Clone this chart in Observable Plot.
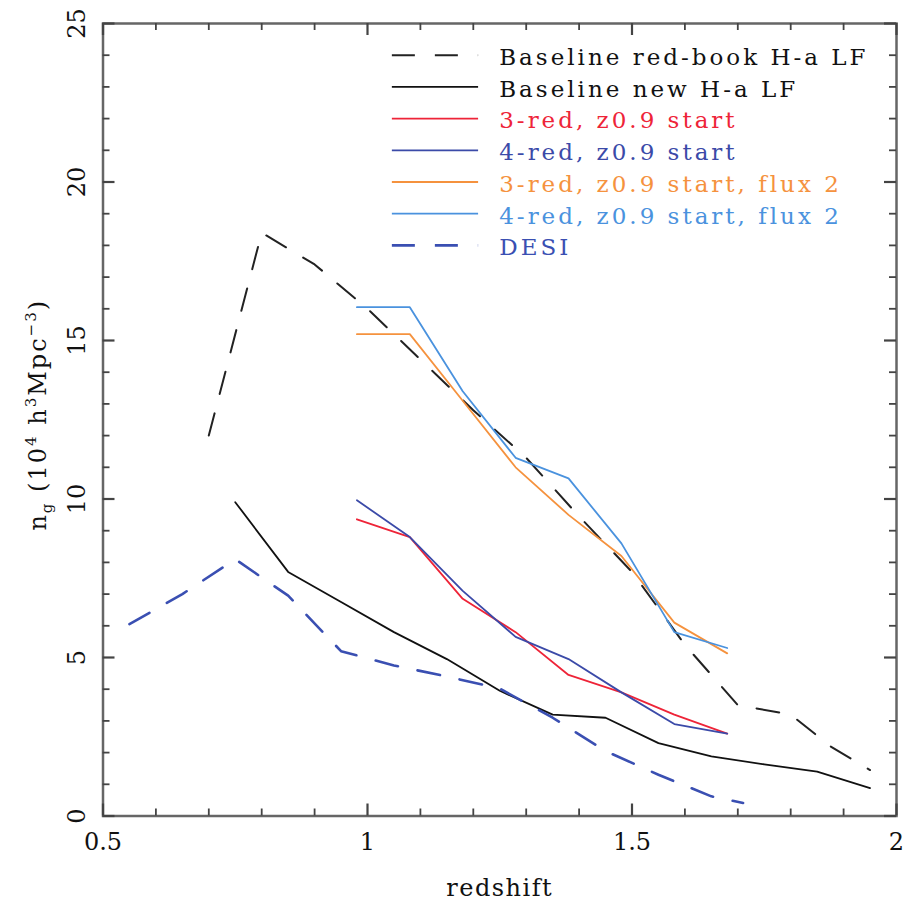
<!DOCTYPE html>
<html><head><meta charset="utf-8">
<script src="https://cdn.jsdelivr.net/npm/d3@7"></script>
<script src="https://cdn.jsdelivr.net/npm/@observablehq/plot@0.6"></script>
<style>
html,body{margin:0;padding:0;background:#fff;}
</style>
</head><body><div id="chart"></div>
<script>
// ---- data ----
const z_redbook = [0.70, 0.80, 0.90, 1.00, 1.10, 1.20, 1.30, 1.40, 1.50, 1.60, 1.70, 1.80, 1.875, 1.95];
const n_redbook = [12.0, 18.4, 17.4, 16.0, 14.4, 12.8, 11.3, 9.45, 7.7, 5.4, 3.5, 3.2, 2.2, 1.45];

const z_new = [0.75, 0.85, 0.95, 1.05, 1.15, 1.25, 1.35, 1.45, 1.55, 1.65, 1.75, 1.85, 1.95];
const n_new = [9.9, 7.7, 6.75, 5.8, 4.95, 3.95, 3.2, 3.1, 2.3, 1.88, 1.63, 1.4, 0.88];

const z_runs = [0.98, 1.08, 1.18, 1.28, 1.38, 1.48, 1.58, 1.68];
const n_3red = [9.36, 8.8, 6.85, 5.8, 4.45, 3.9, 3.2, 2.6];
const n_4red = [9.96, 8.8, 7.1, 5.65, 4.95, 3.9, 2.9, 2.6];
const n_3red_flux2 = [15.2, 15.2, 13.1, 11.0, 9.5, 8.2, 6.1, 5.13];
const n_4red_flux2 = [16.05, 16.05, 13.4, 11.3, 10.65, 8.6, 5.8, 5.3];

const z_desi = [0.55, 0.65, 0.75, 0.85, 0.95, 1.05, 1.15, 1.25, 1.35, 1.45, 1.55, 1.65, 1.71];
const n_desi = [6.05, 7.0, 8.1, 6.95, 5.2, 4.75, 4.4, 4.02, 3.1, 2.05, 1.3, 0.62, 0.41];

const seriesNames = [
  "Baseline red-book H-a LF",
  "Baseline new H-a LF",
  "3-red, z0.9 start",
  "4-red, z0.9 start",
  "3-red, z0.9 start, flux 2",
  "4-red, z0.9 start, flux 2",
  "DESI"
];

const xMajor = [0.5, 1, 1.5, 2];
const yMajor = [0, 5, 10, 15, 20, 25];
const xLabel = "redshift";
const yLabel = "n_g (10^4 h^3Mpc^-3)";

// ---- styles ----
const styles = [
  {color: "#222", width: 2, dash: "23,20", text: "#111"},
  {color: "#111", width: 1.8, dash: null, text: "#111"},
  {color: "#ee2438", width: 1.8, dash: null, text: "#ee2438"},
  {color: "#3b4aa8", width: 1.8, dash: null, text: "#3b4aa8"},
  {color: "#f5923e", width: 1.8, dash: null, text: "#f5923e"},
  {color: "#4a92de", width: 1.8, dash: null, text: "#4a92de"},
  {color: "#3a4fb2", width: 2.6, dash: "23,20", text: "#3a4fb2"}
];

const xs = [z_redbook, z_new, z_runs, z_runs, z_runs, z_runs, z_desi];
const ys = [n_redbook, n_new, n_3red, n_4red, n_3red_flux2, n_4red_flux2, n_desi];

const table = seriesNames.flatMap((name, k) => xs[k].map((z, i) => ({series: name, z, n: ys[k][i]})));

const W = 913, H = 903;
const mL = 102.5, mR = 17, mT = 23, mB = 87.5;
const plotW = W - mL - mR, plotH = H - mT - mB;

const xMinor = d3.range(6, 20).map(d => d / 10).filter(d => !xMajor.includes(d));
const yMinor = d3.range(1, 25).filter(d => d % 5 !== 0);

const tickStroke = "#444";
function ticks() {
  return [
    Plot.tickX(xMinor, {x: d => d, insetTop: plotH - 7, stroke: tickStroke, strokeWidth: 1.8}),
    Plot.tickX(xMinor, {x: d => d, insetBottom: plotH - 7, stroke: tickStroke, strokeWidth: 1.8}),
    Plot.tickX(xMajor, {x: d => d, insetTop: plotH - 12, stroke: tickStroke, strokeWidth: 2.2}),
    Plot.tickX(xMajor, {x: d => d, insetBottom: plotH - 12, stroke: tickStroke, strokeWidth: 2.2}),
    Plot.tickY(yMinor, {y: d => d, insetRight: plotW - 7, stroke: tickStroke, strokeWidth: 1.8}),
    Plot.tickY(yMinor, {y: d => d, insetLeft: plotW - 7, stroke: tickStroke, strokeWidth: 1.8}),
    Plot.tickY(yMajor, {y: d => d, insetRight: plotW - 12, stroke: tickStroke, strokeWidth: 2.2}),
    Plot.tickY(yMajor, {y: d => d, insetLeft: plotW - 12, stroke: tickStroke, strokeWidth: 2.2})
  ];
}

// legend laid out in data units, as in the original plot (one row per y unit)
const legendX1 = 1.047, legendX2 = 1.21, legendXText = 1.249, legendTop = 24;
const legendMarks = seriesNames.flatMap((name, i) => [
  Plot.ruleY([legendTop - i], {x1: legendX1, x2: legendX2, stroke: styles[i].color,
    strokeWidth: styles[i].width, strokeDasharray: styles[i].dash}),
  Plot.text([name], {x: legendXText, y: legendTop - i, textAnchor: "start", lineAnchor: "middle",
    dy: 2.5, fill: styles[i].text, fontSize: 23})
]);

const chart = Plot.plot({
  width: W, height: H,
  marginLeft: mL, marginRight: mR, marginTop: mT, marginBottom: mB,
  x: {domain: [0.5, 2], axis: null},
  y: {domain: [0, 25], axis: null},
  style: {fontFamily: "'DejaVu Serif', serif", fontSize: "24px", background: "#fff", color: "#000"},
  marks: [
    ...seriesNames.map((name, k) => Plot.line(table.filter(d => d.series === name), {
      x: "z", y: "n", stroke: styles[k].color, strokeWidth: styles[k].width,
      strokeDasharray: styles[k].dash, strokeLinejoin: "round"
    })),
    ...legendMarks,
    Plot.frame({stroke: "#666", strokeWidth: 2.5}),
    ...ticks(),
    Plot.text(xMajor, {x: d => d, frameAnchor: "bottom", lineAnchor: "top", dy: 17, text: d => String(d), fontSize: 24, fill: "#111"}),
    Plot.text(yMajor, {y: d => d, frameAnchor: "left", textAnchor: "middle", dx: -18, rotate: -90, lineAnchor: "bottom", text: d => String(d), fontSize: 24, fill: "#111"}),
    Plot.text([xLabel], {frameAnchor: "bottom", lineAnchor: "top", dy: 63, fontSize: 24, fill: "#111"}),
    Plot.text([yLabel], {frameAnchor: "left", textAnchor: "middle", dx: -57.5, dy: -5, rotate: -90, lineAnchor: "bottom", fontSize: 24, fill: "#111"})
  ]
});
document.getElementById("chart").appendChild(chart);

const allText = d3.select(chart).selectAll("text");

// wide letter spacing like the original plotting font
allText.filter(function() { return seriesNames.includes(this.textContent); })
  .attr("letter-spacing", 3);
allText.filter(function() { return this.textContent === xLabel; })
  .attr("letter-spacing", 1.5);

// rich y label: n_g (10^4 h^3 Mpc^-3)
const yl = allText.filter(function() { return this.textContent === yLabel; });
if (!yl.empty()) {
  const parts = [["n", 0], ["g", "sub"], [" (10", 0], ["4", "sup"], [" h", 0], ["3", "sup"], ["Mpc", 0], ["\u22123", "sup"], [")", 0]];
  yl.text(null).attr("letter-spacing", 2);
  let cur = 0;
  for (const [t, kind] of parts) {
    const target = kind === "sup" ? -10 : kind === "sub" ? 6 : 0;
    yl.append("tspan").attr("dy", target - cur).attr("font-size", kind ? 15 : 24).text(t);
    cur = target;
  }
}
</script></body></html>
